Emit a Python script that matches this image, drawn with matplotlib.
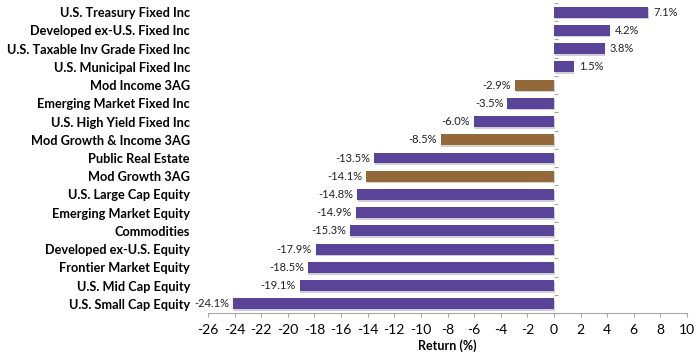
import matplotlib.pyplot as plt
import matplotlib.patheffects as pe
import numpy as np

plt.rcParams['font.family'] = ['Lato', 'DejaVu Sans']

categories = [
    'U.S. Treasury Fixed Inc', 'Developed ex-U.S. Fixed Inc',
    'U.S. Taxable Inv Grade Fixed Inc', 'U.S. Municipal Fixed Inc',
    'Mod Income 3AG', 'Emerging Market Fixed Inc', 'U.S. High Yield Fixed Inc',
    'Mod Growth & Income 3AG', 'Public Real Estate', 'Mod Growth 3AG',
    'U.S. Large Cap Equity', 'Emerging Market Equity', 'Commodities',
    'Developed ex-U.S. Equity', 'Frontier Market Equity', 'U.S. Mid Cap Equity',
    'U.S. Small Cap Equity',
]
returns = [7.1, 4.2, 3.8, 1.5, -2.9, -3.5, -6.0, -8.5, -13.5, -14.1,
           -14.8, -14.9, -15.3, -17.9, -18.5, -19.1, -24.1]
highlight = ['Mod Income 3AG', 'Mod Growth & Income 3AG', 'Mod Growth 3AG']
xticks = list(range(-26, 11, 2))

purple = '#5A449A'
brown = '#94693A'
grey = '#A6A6A6'

fig = plt.figure(figsize=(7, 3.55), dpi=100)
ax = fig.add_axes([208 / 700, 1 - 313 / 355, 479 / 700, 310 / 355])

y = np.arange(len(categories))
colors = [brown if c in highlight else purple for c in categories]
bars = ax.barh(y, returns, height=0.6, color=colors, zorder=3)
for b in bars:
    b.set_path_effects([pe.SimplePatchShadow(offset=(0.4, -1.2), alpha=0.22, rho=0.5),
                        pe.Normal()])

for yi, v in zip(y, returns):
    if v >= 0:
        ax.text(v + 0.4, yi, f'{v:.1f}%', ha='left', va='center', fontsize=8, color='#222222')
    else:
        ax.text(v - 0.3, yi, f'{v:.1f}%', ha='right', va='center', fontsize=8, color='#222222')

ax.set_xlim(-26, 10)
ax.set_ylim(len(categories) - 0.5, -0.5)
ax.set_xticks(xticks)
ax.set_xticklabels([str(t) for t in xticks], fontsize=10)
ax.tick_params(axis='x', length=3, color=grey, pad=5, width=0.8)
ax.set_xlabel('Return (%)', fontsize=9, fontweight='bold', labelpad=2)

ax.set_yticks(y)
ax.set_yticklabels(categories, fontsize=9.2, fontweight='bold')
ax.tick_params(axis='y', length=0, pad=13)

for s in ['top', 'right', 'left']:
    ax.spines[s].set_visible(False)
ax.spines['bottom'].set_color(grey)
ax.spines['bottom'].set_linewidth(0.8)

# zero line with small ticks between categories
zero_pos = (0 - (-26)) / (10 - (-26))
sec = ax.secondary_yaxis(zero_pos)
sec.set_yticks(np.arange(len(categories) + 1) - 0.5)
sec.set_yticklabels([])
sec.tick_params(axis='y', length=3, color=grey, width=0.8, direction='out')
sec.spines['right'].set_visible(False)
sec.spines['left'].set_color(grey)
sec.spines['left'].set_linewidth(0.8)

fig.savefig('out.png', dpi=100)
